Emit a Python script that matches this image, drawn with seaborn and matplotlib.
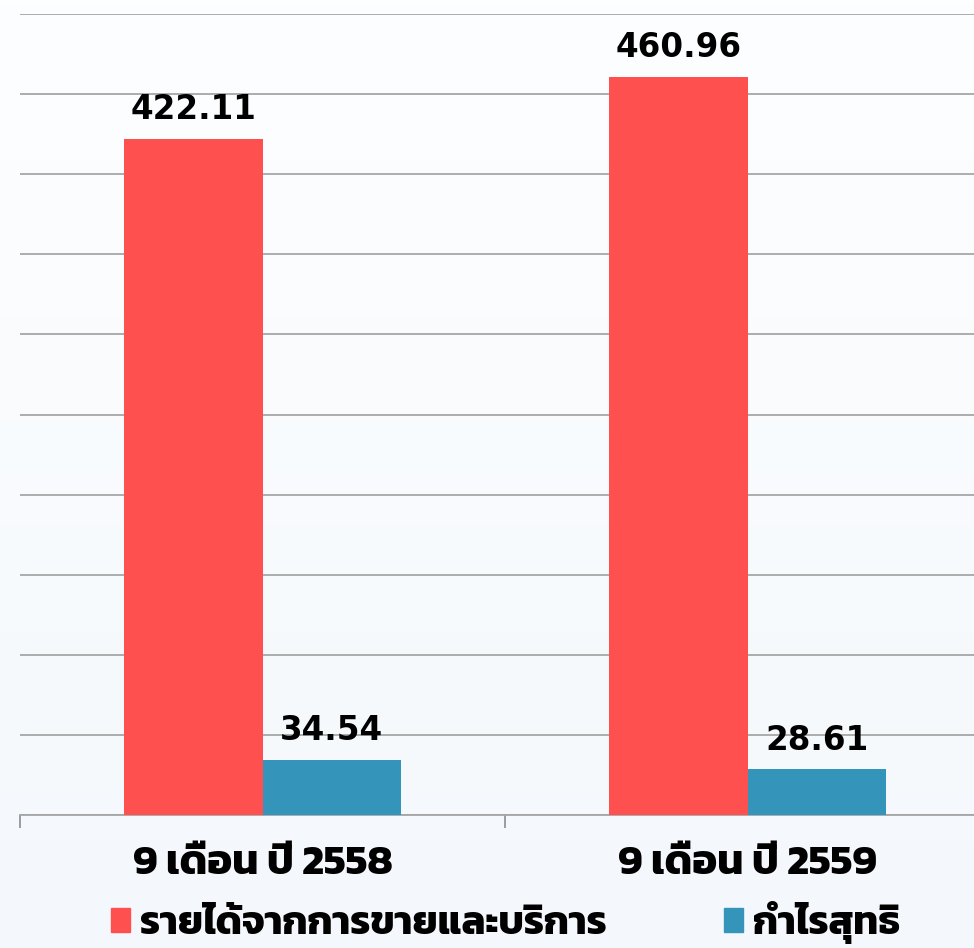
import numpy as np
import pandas as pd
import seaborn as sns
import matplotlib.pyplot as plt
from matplotlib import font_manager
from matplotlib.ft2font import FT2Font
from matplotlib.patches import Patch
import matplotlib.patheffects as pe

periods = ["9 เดือน ปี 2558", "9 เดือน ปี 2559"]
series = ["รายได้จากการขายและบริการ", "กำไรสุทธิ"]
revenue = [422.11, 460.96]
net_profit = [34.54, 28.61]
colors = ["#FF5050", "#3494BA"]

df = pd.DataFrame({
    "period": periods * 2,
    "series": [series[0]] * 2 + [series[1]] * 2,
    "value": revenue + net_profit,
})

sns.set_theme(style="white")


# look for an installed family that can draw Thai, prefer one with a bold face
def thai_family():
    found = {}
    for f in font_manager.fontManager.ttflist:
        try:
            cmap = FT2Font(f.fname).get_charmap()
        except Exception:
            continue
        if 0x0E23 in cmap and 0x0E01 in cmap:
            w = f.weight if isinstance(f.weight, int) else 400
            found[f.name] = max(found.get(f.name, 0), w)
    if not found:
        return None, False
    name = max(found, key=lambda n: found[n])
    return name, found[name] >= 600


thai, has_bold = thai_family()
fams = ([thai] if thai else []) + ["DejaVu Sans"]
plt.rcParams["font.family"] = fams
# fake a heavier stroke when no real bold face exists
heavy = [] if has_bold else [pe.withStroke(linewidth=1.2, foreground="black")]

fig = plt.figure(figsize=(9.74, 9.48), dpi=100)

# soft vertical background gradient
bg = fig.add_axes([0, 0, 1, 1], zorder=-5)
grad = np.linspace(0, 1, 256).reshape(-1, 1)
top = np.array([253, 254, 255]) / 255
bot = np.array([244, 248, 252]) / 255
img = top + (bot - top) * grad[..., None]
bg.imshow(img, aspect="auto", extent=[0, 1, 0, 1])
bg.axis("off")

ax = fig.add_axes([20 / 974, 133 / 948, 970 / 974, 801 / 948])
ax.set_facecolor("none")

sns.barplot(data=df, x="period", y="value", hue="series", palette=colors,
            width=0.57, saturation=1, ax=ax, legend=False, zorder=3,
            linewidth=0)

for cont in ax.containers:
    ax.bar_label(cont, labels=[f"{v:.2f}" for v in cont.datavalues],
                 padding=9, fontsize=23.5, fontweight="bold",
                 family=["DejaVu Sans"], color="black")

ax.set_ylim(0, 500)
ax.set_xlim(-0.5, 1.5)
ax.set_yticks(np.arange(0, 501, 50))
ax.yaxis.grid(True, color="#A6A6A6", linewidth=1.3)
ax.tick_params(axis="y", length=0, labelleft=False)
ax.set_xlabel("")
ax.set_ylabel("")

ax.set_xticks([-0.5, 0.5, 1.5], minor=True)
ax.tick_params(axis="x", which="minor", bottom=True, length=9, width=1.2,
               color="#8C8C8C", direction="out")
ax.tick_params(axis="x", which="major", length=0, pad=22, labelsize=30,
               labelcolor="black")
for t in ax.get_xticklabels():
    t.set_fontweight("bold")
    t.set_path_effects(heavy)

for s in ["top", "right", "left"]:
    ax.spines[s].set_visible(False)
ax.spines["bottom"].set_color("#A6A6A6")
ax.spines["bottom"].set_linewidth(1.3)

handles = [Patch(color=c, label=s) for c, s in zip(colors, series)]
leg = fig.legend(handles=handles, loc="center", bbox_to_anchor=(0.519, 0.027),
                 ncol=2, frameon=False, handlelength=0.48,
                 handleheight=0.55, handletextpad=0.25, columnspacing=2.95,
                 prop={"weight": "bold", "size": 28.5})
for t in leg.get_texts():
    t.set_color("black")
    t.set_path_effects(heavy)

fig.savefig("out.png", dpi=100)
